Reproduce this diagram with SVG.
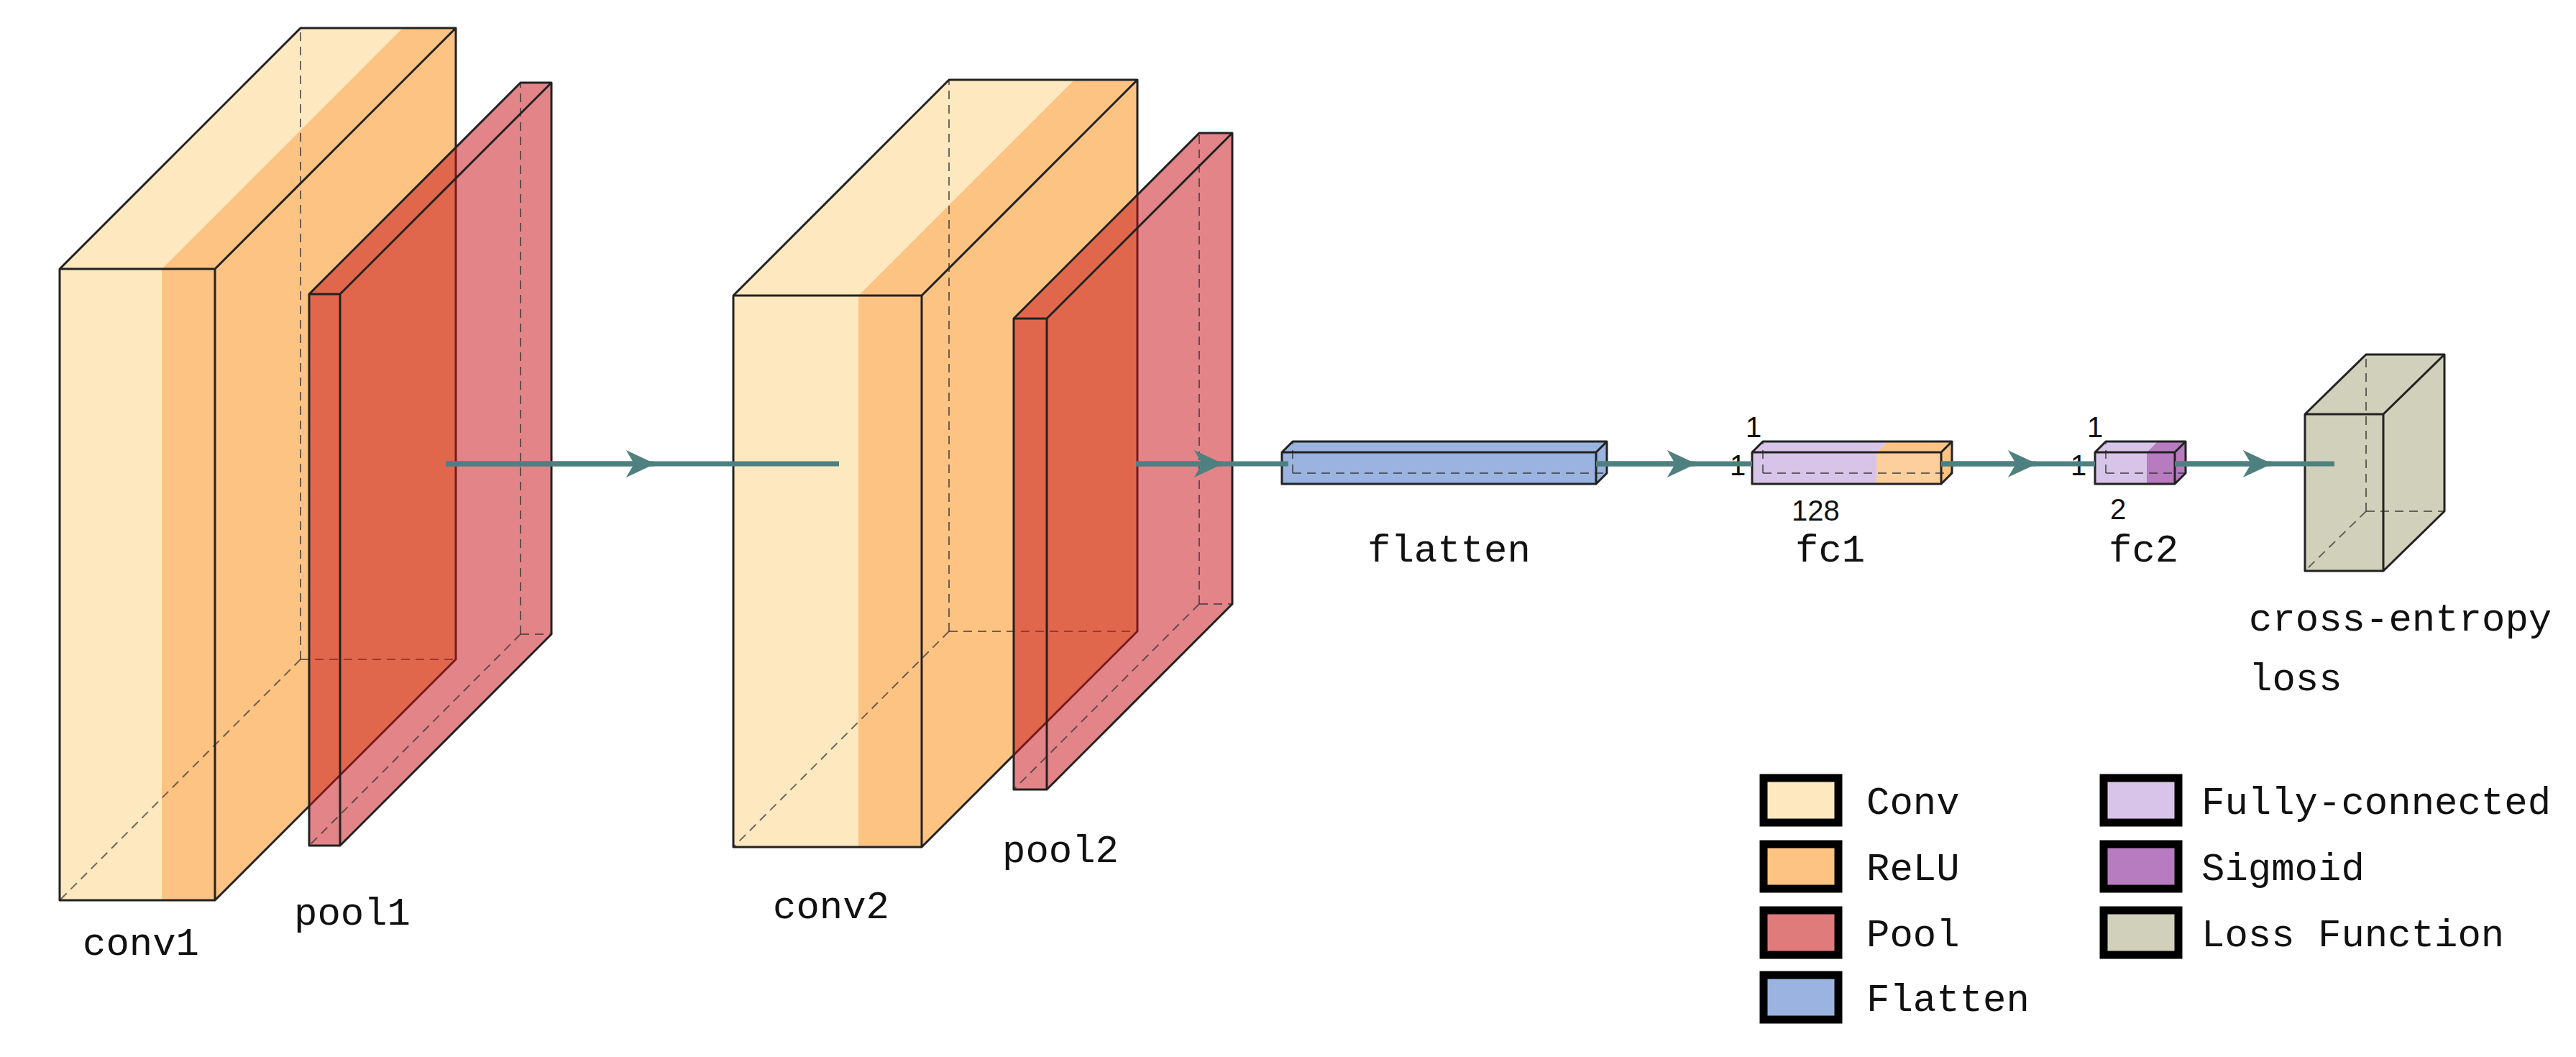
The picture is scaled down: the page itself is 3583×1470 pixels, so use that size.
<svg xmlns="http://www.w3.org/2000/svg" width="3583" height="1470" viewBox="0 0 3583 1470">
<style>
.e{stroke:#222;stroke-width:3;stroke-linejoin:round}
.d{stroke:#333;stroke-width:2;stroke-dasharray:12 8;fill:none;stroke-opacity:0.7}
.conv{fill:#fee8c0}.relu{fill:#fdc383}.pool{fill:#c8141a;fill-opacity:0.52}
.fl{fill:#9ab3e0}.fc{fill:#d8c4e9}.sig{fill:#b77bbf}.loss{fill:#d0d0bb}
text{font-family:"Liberation Mono",monospace;font-size:54px;fill:#111}
.s{font-family:"Liberation Sans",sans-serif;font-size:40px}
.c{stroke:#4f8080;stroke-width:7;fill:none}
.lg{stroke:#000;stroke-width:11}
</style>
<defs>
<marker id="ah" viewBox="0 0 10 10" refX="6" refY="5" markerWidth="7" markerHeight="7" markerUnits="userSpaceOnUse" orient="auto" overflow="visible">
<path d="M-50,-22 L8,5 L-50,32 L-34,5 Z" fill="#4f8080"/>
</marker>
</defs>
<g id="conv1">
<rect class="conv" x="83" y="374" width="142" height="878"/><rect class="relu" x="225" y="374" width="74" height="878"/>
<polygon class="conv" points="83,374 418,39 560,39 225,374"/><polygon class="relu" points="225,374 560,39 634,39 299,374"/>
<polygon class="relu" points="299,374 634,39 634,917 299,1252"/>
<line class="d" x1="418" y1="917" x2="418" y2="39"/><line class="d" x1="418" y1="917" x2="634" y2="917"/><line class="d" x1="418" y1="917" x2="83" y2="1252"/>
<path class="e" fill="none" d="M83,374 H299 V1252 H83 Z M83,374 L418,39 H634 L299,374 M634,39 V917 L299,1252"/>
<text x="115" y="1328">conv1</text>
</g>
<g id="pool1">
<rect class="pool" x="430" y="409" width="43" height="767"/>
<polygon class="pool" points="430,409 724,115 767,115 473,409"/>
<polygon class="pool" points="473,409 767,115 767,882 473,1176"/>
<line class="d" x1="724" y1="882" x2="724" y2="115"/><line class="d" x1="724" y1="882" x2="767" y2="882"/><line class="d" x1="724" y1="882" x2="430" y2="1176"/>
<path class="e" fill="none" d="M430,409 H473 V1176 H430 Z M430,409 L724,115 H767 L473,409 M767,115 V882 L473,1176"/>
<text x="409" y="1286">pool1</text>
</g>
<g id="conv2">
<rect class="conv" x="1020" y="411" width="174" height="767"/><rect class="relu" x="1194" y="411" width="88" height="767"/>
<polygon class="conv" points="1020,411 1320,111 1494,111 1194,411"/><polygon class="relu" points="1194,411 1494,111 1582,111 1282,411"/>
<polygon class="relu" points="1282,411 1582,111 1582,878 1282,1178"/>
<line class="d" x1="1320" y1="878" x2="1320" y2="111"/><line class="d" x1="1320" y1="878" x2="1582" y2="878"/><line class="d" x1="1320" y1="878" x2="1020" y2="1178"/>
<path class="e" fill="none" d="M1020,411 H1282 V1178 H1020 Z M1020,411 L1320,111 H1582 L1282,411 M1582,111 V878 L1282,1178"/>
<text x="1075" y="1277">conv2</text>
</g>
<g id="pool2">
<rect class="pool" x="1410" y="443" width="46" height="655"/>
<polygon class="pool" points="1410,443 1668,185 1714,185 1456,443"/>
<polygon class="pool" points="1456,443 1714,185 1714,840 1456,1098"/>
<line class="d" x1="1668" y1="840" x2="1668" y2="185"/><line class="d" x1="1668" y1="840" x2="1714" y2="840"/><line class="d" x1="1668" y1="840" x2="1410" y2="1098"/>
<path class="e" fill="none" d="M1410,443 H1456 V1098 H1410 Z M1410,443 L1668,185 H1714 L1456,443 M1714,185 V840 L1456,1098"/>
<text x="1394" y="1199">pool2</text>
</g>
<g id="flatten">
<rect class="fl" x="1783" y="629" width="437" height="44"/>
<polygon class="fl" points="1783,629 1798,614 2235,614 2220,629"/><polygon class="fl" points="2220,629 2235,614 2235,658 2220,673"/>
<line class="d" x1="1798" y1="658" x2="2235" y2="658"/><line class="d" x1="1798" y1="658" x2="1798" y2="614"/>
<path class="e" fill="none" d="M1783,629 H2220 V673 H1783 Z M1783,629 L1798,614 H2235 L2220,629 M2235,614 V658 L2220,673"/>
<text x="1902" y="781">flatten</text>
</g>
<g id="fc1">
<rect class="fc" x="2437" y="629" width="173" height="44"/><rect class="relu" x="2610" y="629" width="90" height="44" fill-opacity="0.8"/>
<polygon class="fc" points="2437,629 2452,614 2625,614 2610,629"/><polygon class="relu" points="2610,629 2625,614 2715,614 2700,629"/>
<polygon class="relu" points="2700,629 2715,614 2715,658 2700,673"/>
<line class="d" x1="2452" y1="658" x2="2715" y2="658"/><line class="d" x1="2452" y1="658" x2="2452" y2="614"/>
<path class="e" fill="none" d="M2437,629 H2700 V673 H2437 Z M2437,629 L2452,614 H2715 L2700,629 M2715,614 V658 L2700,673"/>
<text class="s" x="2428" y="608">1</text><text class="s" x="2406" y="661">1</text><text class="s" x="2492" y="724">128</text>
<text x="2497" y="781">fc1</text>
</g>
<g id="fc2">
<rect class="fc" x="2914" y="629" width="72" height="44"/><rect class="sig" x="2986" y="629" width="39" height="44"/>
<polygon class="fc" points="2914,629 2929,614 3001,614 2986,629"/><polygon class="sig" points="2986,629 3001,614 3040,614 3025,629"/>
<polygon class="sig" points="3025,629 3040,614 3040,658 3025,673"/>
<line class="d" x1="2929" y1="658" x2="3040" y2="658"/><line class="d" x1="2929" y1="658" x2="2929" y2="614"/>
<path class="e" fill="none" d="M2914,629 H3025 V673 H2914 Z M2914,629 L2929,614 H3040 L3025,629 M3040,614 V658 L3025,673"/>
<text class="s" x="2903" y="608">1</text><text class="s" x="2880" y="661">1</text><text class="s" x="2935" y="722">2</text>
<text x="2933" y="781">fc2</text>
</g>
<g id="loss">
<rect class="loss" x="3206" y="576" width="109" height="218"/>
<polygon class="loss" points="3206,576 3291,493 3400,493 3315,576"/><polygon class="loss" points="3315,576 3400,493 3400,711 3315,794"/>
<line class="d" x1="3291" y1="711" x2="3291" y2="493"/><line class="d" x1="3291" y1="711" x2="3400" y2="711"/><line class="d" x1="3291" y1="711" x2="3206" y2="794"/>
<path class="e" fill="none" d="M3206,576 H3315 V794 H3206 Z M3206,576 L3291,493 H3400 L3315,576 M3400,493 V711 L3315,794"/>
<text x="3128" y="877">cross-entropy</text><text x="3128" y="960">loss</text>
</g>
<g id="connectors">
<path class="c" d="M620,645 H1167"/><path class="c" d="M620,645 H910" marker-end="url(#ah)"/>
<path class="c" d="M1580,645 H1792"/><path class="c" d="M1580,645 H1700" marker-end="url(#ah)"/>
<path class="c" d="M2220,645 H2437"/><path class="c" d="M2220,645 H2358" marker-end="url(#ah)"/>
<path class="c" d="M2700,645 H2914"/><path class="c" d="M2700,645 H2832" marker-end="url(#ah)"/>
<path class="c" d="M3025,645 H3247"/><path class="c" d="M3025,645 H3159" marker-end="url(#ah)"/>
</g>
<g id="legend">
<rect class="lg conv" x="2453" y="1082" width="104" height="62"/><text x="2596" y="1132">Conv</text>
<rect class="lg relu" x="2453" y="1174" width="104" height="62"/><text x="2596" y="1224">ReLU</text>
<rect class="lg" fill="#e07b7b" x="2453" y="1266" width="104" height="62"/><text x="2596" y="1316">Pool</text>
<rect class="lg fl" x="2453" y="1356" width="104" height="62"/><text x="2596" y="1406">Flatten</text>
<rect class="lg fc" x="2926" y="1082" width="104" height="62"/><text x="3062" y="1132">Fully-connected</text>
<rect class="lg sig" x="2926" y="1174" width="104" height="62"/><text x="3062" y="1224">Sigmoid</text>
<rect class="lg loss" x="2926" y="1266" width="104" height="62"/><text x="3062" y="1316">Loss Function</text>
</g>
</svg>
